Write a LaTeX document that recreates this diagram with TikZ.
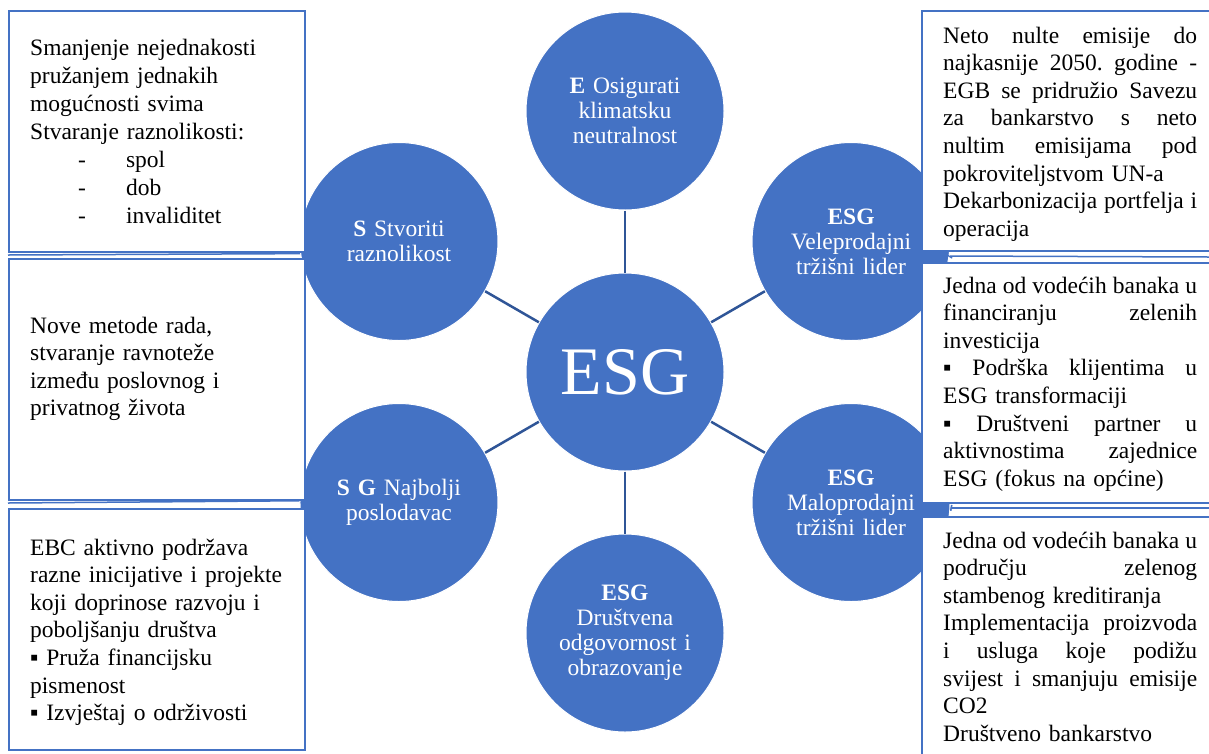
\documentclass[tikz,border=0pt]{standalone}
\usepackage{fontspec}
\setmainfont{Liberation Serif}
\usetikzlibrary{calc}
\frenchspacing

\definecolor{esgblue}{HTML}{4472C4}
\definecolor{spokeblue}{HTML}{2F5597}
\newcommand{\jl}[1]{\makebox[254pt][s]{\spaceskip=0.25em plus 1fil minus 0.1em\relax #1}}

\begin{document}
\begin{tikzpicture}[x=1pt, y=-1pt,
    bubble/.style={circle, fill=esgblue, draw=white, line width=1pt, minimum size=198pt,
      inner sep=0pt, text width=150pt, align=center, text=white,
      font=\fontsize{23.5}{25}\selectfont},
    infobox/.style={draw=esgblue, line width=2pt, fill=white, inner sep=0pt, anchor=north west},
    boxtext/.style={anchor=base west, inner sep=0pt, text width=#1, align=left,
      font=\fontsize{23.5}{27.6}\selectfont},
    boxtext/.default=270pt,
    spoke/.style={draw=spokeblue, line width=2.5pt},
    hook/.style={draw=esgblue, line width=1.5pt}]

    % 定义公共变量
    \def\ring{261}      % 中心到外圆的距离

    \useasboundingbox (0,0) rectangle (1209,753);
    \clip (0,0) rectangle (1209,753);
    \fill[white] (0,0) rectangle (1209,753);

    % 中心圆
    \node[bubble, font=\fontsize{68}{70}\selectfont] (esg) at (625,372) {ESG};

    % 外圆:6个节点
    \foreach \ang/\nm/\txt in {
        -90/klima/{\textbf{E} Osigurati\\klimatsku\\neutralnost},
        -30/vele/{\textbf{ESG}\\Veleprodajni\\tržišni lider},
        30/malo/{\textbf{ESG}\\Maloprodajni\\tržišni lider},
        90/drus/{\textbf{ESG}\\Društvena\\odgovornost i\\obrazovanje},
        150/najb/{\textbf{S G} Najbolji\\poslodavac},
        210/stvo/{\textbf{S} Stvoriti\\raznolikost}} {
      \node[bubble] (\nm) at ($(esg)+(\ang:\ring)$) {\txt};
    }

    % 中心到外圆的连线
    \foreach \nm in {klima,vele,malo,drus,najb,stvo} {
      \draw[spoke] (esg) -- (\nm);
    }

    % 外圆到文本框的连线
    \coordinate (hl1) at (8,255);
    \coordinate (hl2) at (8,503);
    \coordinate (hr1) at (950,256);
    \coordinate (hr1e) at (1209,257);
    \coordinate (hr2) at (952,508);
    \coordinate (hr2e) at (1209,508);
    \draw[hook] (stvo.187.5) -- (hl1);
    \draw[hook] (najb.179.4) -- (hl2);
    \draw[hook, line width=6pt] (vele.351.3) -- (hr1);
    \draw[hook] (hr1) -- (hr1e);
    \draw[hook, line width=6pt] (malo.357.7) -- (hr2);
    \draw[hook] (hr2) -- (hr2e);

    % 文本框
    \node[infobox, minimum width=296pt, minimum height=241pt] (blt) at (8,10) {};
    \node[infobox, minimum width=296pt, minimum height=241pt] (blm) at (8,258) {};
    \node[infobox, minimum width=296pt, minimum height=241pt] (blb) at (8,508) {};
    \node[infobox, minimum width=300pt, minimum height=240pt] (brt) at (921,10) {};
    \node[infobox, minimum width=300pt, minimum height=240pt] (brm) at (921,262) {};
    \node[infobox, minimum width=300pt, minimum height=250pt] (brb) at (921,516) {};

    % 左侧文本
    \node[boxtext, font=\fontsize{23.5}{28}\selectfont] (tlt) at (30,55) {%
      Smanjenje nejednakosti\\
      pružanjem jednakih\\
      mogućnosti svima\\
      Stvaranje raznolikosti:\\
      \hspace*{48pt}-\hspace*{40pt}spol\\
      \hspace*{48pt}-\hspace*{40pt}dob\\
      \hspace*{48pt}-\hspace*{40pt}invaliditet};
    \node[boxtext] (tlm) at (30,333) {%
      Nove metode rada,\\
      stvaranje ravnoteže\\
      između poslovnog i\\
      privatnog života};
    \node[boxtext] (tlb) at (30,555) {%
      EBC aktivno podržava\\
      razne inicijative i projekte\\
      koji doprinose razvoju i\\
      poboljšanju društva\\
      ▪ Pruža financijsku\\
      pismenost\\
      ▪ Izvještaj o održivosti};

    % 右侧文本
    \node[boxtext=254pt] (trt) at (943,43) {%
      \jl{Neto nulte emisije do}\\
      \jl{najkasnije 2050. godine -}\\
      \jl{EGB se pridružio Savezu}\\
      \jl{za bankarstvo s neto}\\
      \jl{nultim emisijama pod}\\
      pokroviteljstvom UN-a\\
      \jl{Dekarbonizacija portfelja i}\\
      operacija};
    \node[boxtext=254pt] (trm) at (943,293) {%
      \jl{Jedna od vodećih banaka u}\\
      \jl{financiranju zelenih}\\
      investicija\\
      \jl{▪ Podrška klijentima u}\\
      ESG transformaciji\\
      \jl{▪ Društveni partner u}\\
      \jl{aktivnostima zajednice}\\
      ESG (fokus na općine)};
    \node[boxtext=254pt] (trb) at (943,548) {%
      \jl{Jedna od vodećih banaka u}\\
      \jl{području zelenog}\\
      stambenog kreditiranja\\
      \jl{Implementacija proizvoda}\\
      \jl{i usluga koje podižu}\\
      \jl{svijest i smanjuju emisije}\\
      CO2\\
      Društveno bankarstvo};

\end{tikzpicture}
\end{document}
